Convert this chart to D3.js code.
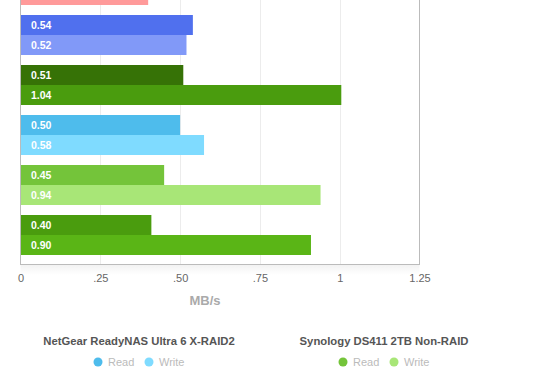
<!DOCTYPE html>
<html>
<head>
<meta charset="utf-8">
<script src="https://cdn.jsdelivr.net/npm/d3@7"></script>
<style>
  body { margin: 0; background: #fff; }
  text { font-family: "Liberation Sans", Arial, Helvetica, sans-serif; }
</style>
</head>
<body>
<script>
// NAS throughput, read / write, MB/s (top of chart is cut off)

var systems = ['sys0', 'sys1', 'sys2', 'sys3', 'sys4', 'sys5'];
var readValues = [0.40, 0.54, 0.51, 0.50, 0.45, 0.41];
var writeValues = [0.40, 0.52, 1.005, 0.575, 0.94, 0.91];
var readLabels = ['0.40', '0.54', '0.51', '0.50', '0.45', '0.40'];
var writeLabels = ['0.40', '0.52', '1.04', '0.58', '0.94', '0.90'];
var readColors = ['#f07f7f', '#5070ee', '#367206', '#4ebcec', '#74c43a', '#4a9c0e'];
var writeColors = ['#ff9a9a', '#8199f8', '#4a9c0e', '#7fdbff', '#a8e677', '#5ab516'];

var ticks = [0, 0.25, 0.5, 0.75, 1, 1.25];
var tickLabels = ['0', '.25', '.50', '.75', '1', '1.25'];

var legendTitles = ['NetGear ReadyNAS Ultra 6 X-RAID2', 'Synology DS411 2TB Non-RAID'];
var legendSystems = [3, 4];
var legendItems = ['Read', 'Write'];

var svgWidth = 560;
var svgHeight = 390;

var svg = d3.select('body').append('svg')
  .attr('width', svgWidth)
  .attr('height', svgHeight);

var xScale = d3.scaleLinear()
  .domain([0, 1.25])
  .range([20.5, 419.5]);

var yScale = d3.scaleBand()
  .domain(systems)
  .range([-40, 260])
  .paddingInner(0.2)
  .paddingOuter(0.1);

var subScale = d3.scaleBand()
  .domain(['read', 'write'])
  .range([0, yScale.bandwidth()]);

var axisY = 264.5;

// gridlines
svg.append('g')
  .selectAll('line')
  .data(ticks.slice(1, -1))
  .enter()
  .append('line')
  .attr('x1', function(d) { return Math.round(xScale(d)) + 0.5; })
  .attr('x2', function(d) { return Math.round(xScale(d)) + 0.5; })
  .attr('y1', 0)
  .attr('y2', axisY)
  .attr('stroke', '#ececec')
  .attr('stroke-width', 1);

// soft shadow under the plot
var defs = svg.append('defs');
var grad = defs.append('linearGradient')
  .attr('id', 'shade')
  .attr('x1', 0).attr('x2', 0).attr('y1', 0).attr('y2', 1);
grad.append('stop').attr('offset', '0%').attr('stop-color', '#000').attr('stop-opacity', 0.05);
grad.append('stop').attr('offset', '100%').attr('stop-color', '#000').attr('stop-opacity', 0);
svg.append('rect')
  .attr('x', xScale(0))
  .attr('y', axisY + 0.5)
  .attr('width', xScale(1.25) - xScale(0))
  .attr('height', 10)
  .attr('fill', 'url(#shade)');

// bars
var rows = [];
systems.forEach(function(s, i) {
  rows.push({ sys: s, kind: 'read', value: readValues[i], label: readLabels[i], color: readColors[i] });
  rows.push({ sys: s, kind: 'write', value: writeValues[i], label: writeLabels[i], color: writeColors[i] });
});

function rowY(d) { return yScale(d.sys) + subScale(d.kind); }

var bars = svg.append('g');

bars.selectAll('rect')
  .data(rows)
  .enter()
  .append('rect')
  .attr('x', xScale(0))
  .attr('y', rowY)
  .attr('width', function(d) { return xScale(d.value) - xScale(0); })
  .attr('height', subScale.bandwidth())
  .attr('fill', function(d) { return d.color; });

// only label bars whose middle is on screen (the top group is cut off)
bars.selectAll('text')
  .data(rows.filter(function(d) { return rowY(d) + subScale.bandwidth() / 2 > 0; }))
  .enter()
  .append('text')
  .attr('x', 31)
  .attr('y', function(d) { return rowY(d) + subScale.bandwidth() / 2; })
  .attr('dy', '0.35em')
  .attr('font-size', 10.5)
  .attr('font-weight', 'bold')
  .attr('fill', '#fff')
  .text(function(d) { return d.label; });

// frame: left axis, right border, bottom axis
svg.append('line')
  .attr('x1', 20.5).attr('x2', 20.5)
  .attr('y1', 0).attr('y2', axisY)
  .attr('stroke', '#bbb');
svg.append('line')
  .attr('x1', 419.5).attr('x2', 419.5)
  .attr('y1', 0).attr('y2', axisY)
  .attr('stroke', '#bbb');
svg.append('line')
  .attr('x1', 20).attr('x2', 420)
  .attr('y1', axisY).attr('y2', axisY)
  .attr('stroke', '#bbb');

// tick labels
var bottomAxis = d3.axisBottom(xScale)
  .tickValues(ticks)
  .tickFormat(function(d, i) { return tickLabels[i]; })
  .tickSize(0)
  .tickPadding(10);

var axisG = svg.append('g')
  .attr('transform', 'translate(0,' + axisY + ')')
  .call(bottomAxis);
axisG.select('.domain').remove();
axisG.selectAll('text')
  .attr('font-family', '"Liberation Sans", Arial, sans-serif')
  .attr('font-size', 11)
  .attr('fill', '#666');

svg.append('text')
  .attr('x', 205)
  .attr('y', 305)
  .attr('text-anchor', 'middle')
  .attr('font-size', 13)
  .attr('font-weight', 'bold')
  .attr('fill', '#aaa')
  .text('MB/s');

// legend
var legendX = [139, 384];

legendTitles.forEach(function(title, i) {
  var g = svg.append('g')
    .attr('transform', 'translate(' + legendX[i] + ',0)');
  g.append('text')
    .attr('x', 0)
    .attr('y', 345)
    .attr('text-anchor', 'middle')
    .attr('font-size', 11.3)
    .attr('font-weight', 'bold')
    .attr('fill', '#555')
    .text(title);

  var s = legendSystems[i];
  var itemColors = [readColors[s], writeColors[s]];
  var items = g.selectAll('.item')
    .data(legendItems)
    .enter()
    .append('g')
    .attr('transform', function(d, j) { return 'translate(' + (-41 + j * 51) + ',362)'; });
  items.append('circle')
    .attr('r', 4.5)
    .attr('fill', function(d, j) { return itemColors[j]; });
  items.append('text')
    .attr('x', 10)
    .attr('dy', '0.35em')
    .attr('font-size', 11)
    .attr('fill', '#bbb')
    .text(function(d) { return d; });
});
</script>
</body>
</html>
